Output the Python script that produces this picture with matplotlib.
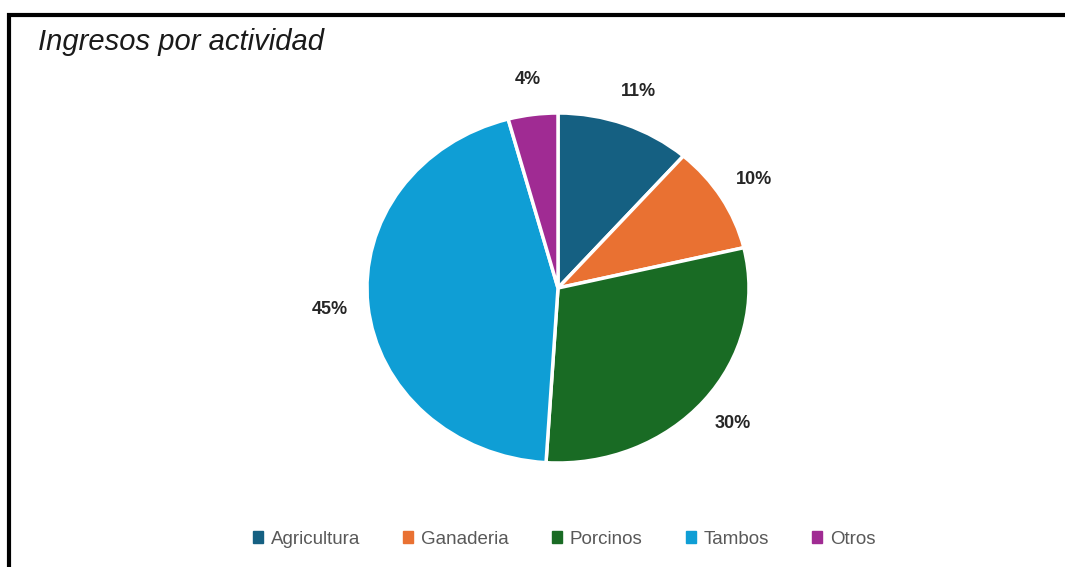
import numpy as np
import matplotlib.pyplot as plt
from matplotlib.patches import Rectangle

# data (share of income, %)
categories = ["Agricultura", "Ganaderia", "Porcinos", "Tambos", "Otros"]
values = [11.4, 9.9, 29.7, 44.8, 4.2]
colors = ["#156082", "#e97132", "#196b24", "#0f9ed5", "#a02b93"]

W, H = 1065, 567
fig = plt.figure(figsize=(W / 100, H / 100), dpi=100)

# outer frame (only left and top edges visible in the crop)
fig.patches.append(Rectangle((9 / W, -0.2), 1.2, 1.2 - 15 / H,
                             transform=fig.transFigure, fill=False,
                             edgecolor="black", linewidth=3, zorder=0))

fig.text(38 / W, 1 - 42 / H, "Ingresos por actividad", fontsize=21,
         style="italic", family="Liberation Sans", color="#1a1a1a",
         va="center", ha="left")

# pie axes, sized in pixels around the centre of the pie
cx, cy = 558, 288
rx, ry = 191, 175
ax = fig.add_axes([(cx - rx) / W, (H - cy - ry) / H, 2 * rx / W, 2 * ry / H])
wedges, texts, autotexts = ax.pie(
    values, colors=colors, startangle=90, counterclock=False,
    autopct=lambda p: f"{p:.0f}%", pctdistance=1.2,
    wedgeprops=dict(edgecolor="white", linewidth=2.5),
    textprops=dict(fontsize=13, fontweight="bold", color="#262626",
                   family="Liberation Sans"))
ax.set_aspect("auto")
ax.set_xlim(-1, 1)
ax.set_ylim(-1, 1)

handles = [Rectangle((0, 0), 1, 1, color=c) for c in colors]
fig.legend(handles, categories, loc="center", bbox_to_anchor=(564 / W, 1 - 539 / H),
           ncol=5, frameon=False, handlelength=0.55, handleheight=0.55,
           handletextpad=0.4, columnspacing=2.3, labelcolor="#595959",
           prop=dict(family="Liberation Sans", size=13.5))

fig.savefig("out.png", dpi=100)
